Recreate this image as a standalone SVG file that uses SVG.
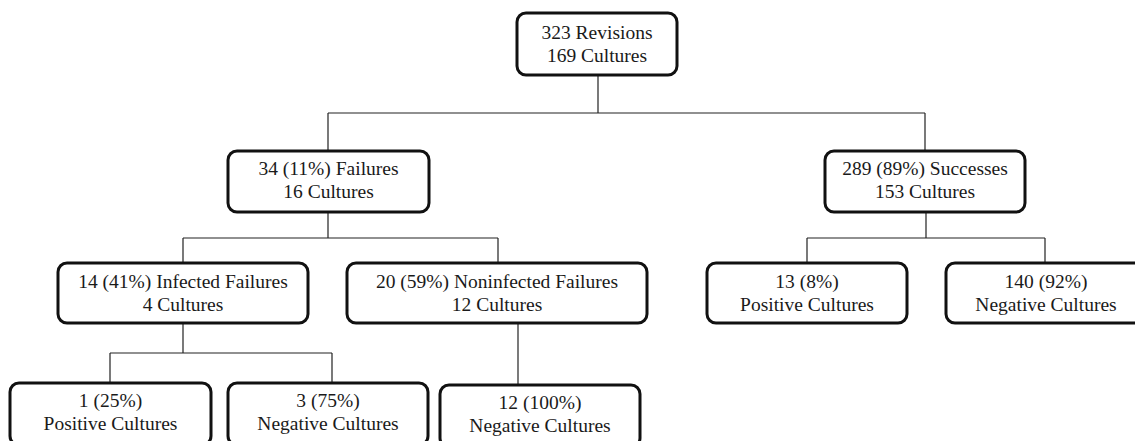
<svg xmlns="http://www.w3.org/2000/svg" width="1135" height="441" viewBox="0 0 1135 441">
<style>
.box{fill:#fff;stroke:#111;stroke-width:3}
.t{font-family:'Liberation Serif','Times New Roman',Times,'DejaVu Serif',serif;font-size:19.5px;fill:#1a1a1a;text-anchor:middle}
.c{fill:none;stroke:#222;stroke-width:1.2}
</style>
<rect width="1135" height="441" fill="#fff"/>
<g id="connectors">
<path class="c" d="M598 75V113M328 113H925M328 113V151M925 113V151"/>
<path class="c" d="M328 212V238M183 238H498M183 238V263M498 238V263"/>
<path class="c" d="M926 212V238M807 238H1045M807 238V263M1045 238V263"/>
<path class="c" d="M183 323V353M110 353H332M110 353V383M332 353V383"/>
<path class="c" d="M518 323V385"/>
</g>
<g id="root"><rect class="box" x="517" y="13" width="160" height="62" rx="9"/>
<text class="t" x="597" y="39">323 Revisions</text><text class="t" x="597" y="62">169 Cultures</text></g>
<g id="failures"><rect class="box" x="228" y="151" width="201" height="61" rx="9"/>
<text class="t" x="328.5" y="175">34 (11%) Failures</text><text class="t" x="328.5" y="198">16 Cultures</text></g>
<g id="successes"><rect class="box" x="825" y="151" width="200" height="61" rx="9"/>
<text class="t" x="925" y="175">289 (89%) Successes</text><text class="t" x="925" y="198">153 Cultures</text></g>
<g id="infected"><rect class="box" x="58" y="263" width="250" height="60" rx="9"/>
<text class="t" x="183" y="288">14 (41%) Infected Failures</text><text class="t" x="183" y="311">4 Cultures</text></g>
<g id="noninfected"><rect class="box" x="347" y="263" width="300" height="60" rx="9"/>
<text class="t" x="497" y="288">20 (59%) Noninfected Failures</text><text class="t" x="497" y="311">12 Cultures</text></g>
<g id="succ-positive"><rect class="box" x="707" y="263" width="200" height="60" rx="9"/>
<text class="t" x="807" y="288">13 (8%)</text><text class="t" x="807" y="311">Positive Cultures</text></g>
<g id="succ-negative"><rect class="box" x="946" y="263" width="200" height="60" rx="9"/>
<text class="t" x="1046" y="288">140 (92%)</text><text class="t" x="1046" y="311">Negative Cultures</text></g>
<g id="inf-positive"><rect class="box" x="10" y="383" width="201" height="62" rx="9"/>
<text class="t" x="110.5" y="407">1 (25%)</text><text class="t" x="110.5" y="430">Positive Cultures</text></g>
<g id="inf-negative"><rect class="box" x="228" y="383" width="200" height="62" rx="9"/>
<text class="t" x="328" y="407">3 (75%)</text><text class="t" x="328" y="430">Negative Cultures</text></g>
<g id="non-negative"><rect class="box" x="440" y="385" width="200" height="62" rx="9"/>
<text class="t" x="540" y="409">12 (100%)</text><text class="t" x="540" y="432">Negative Cultures</text></g>
</svg>
